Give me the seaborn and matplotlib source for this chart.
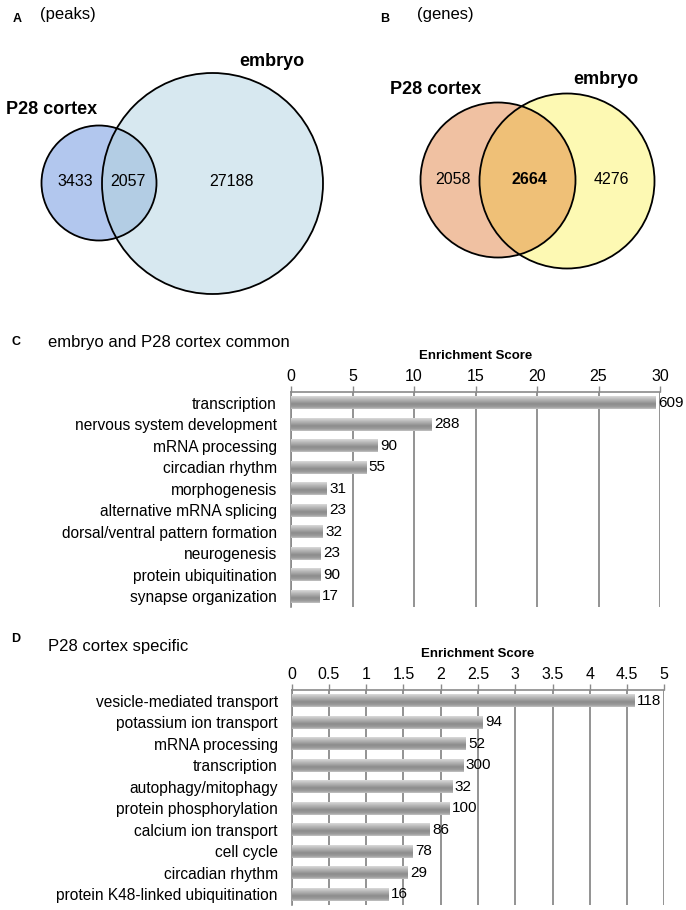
import numpy as np
import pandas as pd
import matplotlib
matplotlib.use("Agg")
import matplotlib.pyplot as plt
from matplotlib.patches import Circle
import seaborn as sns

# ---------------- data ----------------
venn_peaks_labels = ["P28 cortex", "embryo"]
venn_peaks_counts = [3433, 2057, 27188]          # cortex only, both, embryo only
venn_genes_labels = ["P28 cortex", "embryo"]
venn_genes_counts = [2058, 2664, 4276]

terms_c = ["transcription", "nervous system development", "mRNA processing",
           "circadian rhythm", "morphogenesis", "alternative mRNA splicing",
           "dorsal/ventral pattern formation", "neurogenesis",
           "protein ubiquitination", "synapse organization"]
scores_c = [29.6, 11.4, 7.0, 6.1, 2.9, 2.85, 2.6, 2.4, 2.4, 2.3]
counts_c = [609, 288, 90, 55, 31, 23, 32, 23, 90, 17]
ticks_c = [0, 5, 10, 15, 20, 25, 30]

terms_d = ["vesicle-mediated transport", "potassium ion transport",
           "mRNA processing", "transcription", "autophagy/mitophagy",
           "protein phosphorylation", "calcium ion transport", "cell cycle",
           "circadian rhythm", "protein K48-linked ubiquitination"]
scores_d = [4.59, 2.56, 2.33, 2.30, 2.15, 2.11, 1.85, 1.62, 1.55, 1.30]
counts_d = [118, 94, 52, 300, 32, 100, 86, 78, 29, 16]
ticks_d = [0, 0.5, 1, 1.5, 2, 2.5, 3, 3.5, 4, 4.5, 5]

# ---------------- style ----------------
sns.set_theme(style="white")
plt.rcParams["font.family"] = ["Liberation Sans", "DejaVu Sans"]
plt.rcParams["text.color"] = "black"
plt.rcParams["xtick.labelcolor"] = "black"
plt.rcParams["ytick.labelcolor"] = "black"
plt.rcParams["axes.labelcolor"] = "black"

W, H = 686, 910
fig = plt.figure(figsize=(W / 100, H / 100), dpi=100)

# background axes in pixel coordinates for Venn panels and panel titles
bg = fig.add_axes([0, 0, 1, 1])
bg.set_xlim(0, W)
bg.set_ylim(H, 0)
bg.axis("off")
bg.set_zorder(0)


def venn(ax, c1, r1, c2, r2, col1, col2, colov, counts, names, npos, name_pos, bold_mid=False):
    a = Circle(c1, r1, facecolor=col1, edgecolor="none", zorder=1)
    b = Circle(c2, r2, facecolor=col2, edgecolor="none", zorder=1)
    ax.add_patch(a)
    ax.add_patch(b)
    clipper = Circle(c2, r2, transform=ax.transData, facecolor="none", edgecolor="none")
    ov = Circle(c1, r1, facecolor=colov, edgecolor="none", zorder=2)
    ax.add_patch(ov)
    ov.set_clip_path(clipper)
    ax.add_patch(Circle(c1, r1, facecolor="none", edgecolor="black", lw=1.3, zorder=3))
    ax.add_patch(Circle(c2, r2, facecolor="none", edgecolor="black", lw=1.3, zorder=3))
    for i, (v, (x, y)) in enumerate(zip(counts, npos)):
        ax.text(x, y, str(v), ha="center", va="center", fontsize=11.5,
                fontweight="bold" if (bold_mid and i == 1) else "normal", zorder=4)
    for nm, (x, y) in zip(names, name_pos):
        ax.text(x, y, nm, ha="center", va="center", fontsize=13, fontweight="bold", zorder=4)


# Panel A
bg.text(17, 19, "A", fontsize=9, fontweight="bold", ha="center", va="center")
bg.text(40, 15, "(peaks)", fontsize=12, ha="left", va="center")
venn(bg, (99, 183), 57.5, (212.5, 183.5), 110.5,
     "#b2c7ee", "#d7e8f0", "#b3cde4", venn_peaks_counts, venn_peaks_labels,
     [(75, 181), (128, 181), (232, 181)], [(52, 109), (272, 62)])

# Panel B
bg.text(385, 19, "B", fontsize=9, fontweight="bold", ha="center", va="center")
bg.text(417, 15, "(genes)", fontsize=12, ha="left", va="center")
venn(bg, (498, 180), 77.5, (567, 181), 87.5,
     "#f0c1a2", "#fdf9b3", "#efc077", venn_genes_counts, venn_genes_labels,
     [(453, 179), (529, 179), (611, 179)], [(436, 90), (606, 80)], bold_mid=True)

# Panel titles for bar charts
bg.text(16, 342, "C", fontsize=9, fontweight="bold", ha="center", va="center")
bg.text(48, 343, "embryo and P28 cortex common", fontsize=12, ha="left", va="center")
bg.text(16, 639, "D", fontsize=9, fontweight="bold", ha="center", va="center")
bg.text(48, 646, "P28 cortex specific", fontsize=12, ha="left", va="center")


def gradient_bars(ax):
    cmap = matplotlib.colors.LinearSegmentedColormap.from_list(
        "cyl", [(0.0, "#dadada"), (0.2, "#bebebe"), (0.6, "#8c8c8c"),
                (0.85, "#9c9c9c"), (1.0, "#c4c4c4")])
    grad = np.linspace(0, 1, 64).reshape(-1, 1)
    for p in list(ax.patches):
        x0, y0 = p.get_x(), p.get_y()
        w, h = p.get_width(), p.get_height()
        im = ax.imshow(grad, cmap=cmap, aspect="auto", origin="upper",
                       extent=(x0, x0 + w, y0 + h, y0), zorder=3, interpolation="bilinear")
        im.set_clip_path(p)


def bar_panel(rect, terms, scores, counts, ticks):
    ax = fig.add_axes(rect)
    df = pd.DataFrame({"term": terms, "score": scores})
    sns.barplot(data=df, x="score", y="term", orient="h", color="#a0a0a0",
                width=0.6, ax=ax, zorder=3, edgecolor="none")
    ylim = (len(terms) - 0.5, -0.5)
    gradient_bars(ax)
    ax.set_ylim(*ylim)
    ax.set_xlim(ticks[0], ticks[-1])
    ax.bar_label(ax.containers[0], labels=[str(c) for c in counts], padding=2,
                 fontsize=11, zorder=5, color="black")
    ax.xaxis.tick_top()
    ax.xaxis.set_label_position("top")
    ax.set_xticks(ticks)
    ax.set_xticklabels([f"{t:g}" for t in ticks], fontsize=11.5)
    ax.set_xlabel("Enrichment Score", fontsize=9.5, fontweight="bold", labelpad=7)
    ax.set_ylabel("")
    ax.tick_params(axis="y", labelsize=11.2, length=0, pad=10)
    ax.tick_params(axis="x", length=4, width=1, color="#8a8a8a", pad=2, direction="out")
    ax.set_yticks(np.arange(len(terms)) - 0.5, minor=True)
    ax.tick_params(axis="y", which="minor", length=4, width=1, color="#8a8a8a", direction="out")
    ax.grid(axis="x", color="#808080", lw=1.2, zorder=0)
    ax.set_axisbelow(True)
    for s in ["bottom", "right"]:
        ax.spines[s].set_visible(False)
    for s in ["top", "left"]:
        ax.spines[s].set_color("#8a8a8a")
        ax.spines[s].set_linewidth(1.2)
    ax.patch.set_alpha(0)
    return ax


bar_panel([291 / W, (H - 607) / H, 369 / W, 215 / H], terms_c, scores_c, counts_c, ticks_c)
bar_panel([291.7 / W, (H - 905) / H, 372.6 / W, 215 / H], terms_d, scores_d, counts_d, ticks_d)

fig.savefig("out.png", dpi=100)
